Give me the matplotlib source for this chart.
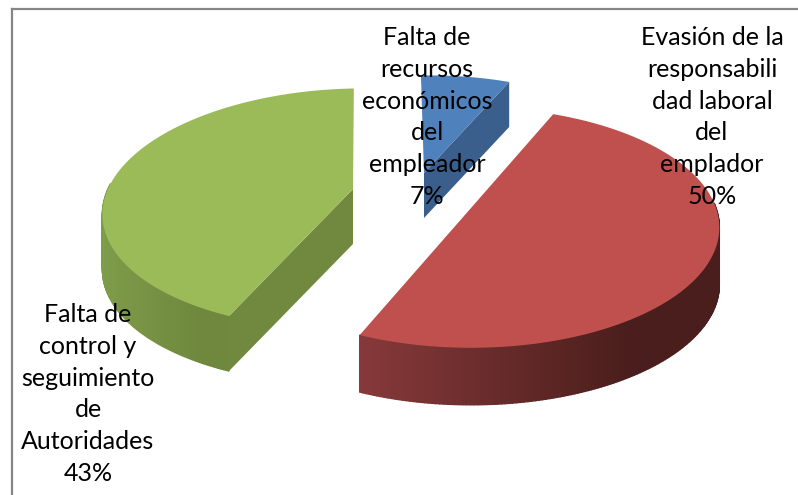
import numpy as np
import matplotlib
matplotlib.use('Agg')
import matplotlib.pyplot as plt
from matplotlib.colors import to_rgb

labels = ['Falta de\nrecursos\neconómicos\ndel\nempleador\n7%',
          'Evasión de la\nresponsabili\ndad laboral\ndel\nemplador\n50%',
          'Falta de\ncontrol y\nseguimiento\nde\nAutoridades\n43%']
values = [7, 50, 43]
top_colors = ['#4f81bd', '#c0504d', '#9bbb59']
inner_colors = ['#3a5f8c', '#8e3a38', '#71893f']
wall_left = ['#3a5f8c', '#87393a', '#7e9c49']
wall_right = ['#2c4a6e', '#4a1e1c', '#6f883e']

# layout of each slice in pixels: centre, scale, wall height, shear
centers = [(424, 173), (471, 208), (353, 189)]
scales = [0.97, 1.0, 1.0]
heights = [45, 57, 55]
shears = [0.06, 0.0, 0.1]
label_pos = [(427, 117), (712, 117), (88, 394)]

start = 92.5
RX, RY, P = 245, 117, 0.163


def project(t, center, scale, shear):
    s = scale / (1 + P * np.sin(t))
    x = RX * np.cos(t) * s
    y = RY * np.sin(t) * s
    return center[0] + x + shear * y, center[1] - y


fig = plt.figure(figsize=(7.98, 4.95), dpi=100)
ax = fig.add_axes([0, 0, 1, 1])
ax.set_xlim(0, 798)
ax.set_ylim(495, 0)
ax.axis('off')

# chart frame, runs past the edges of the picture
ax.plot([12, 12], [500, 9], color='#868686', lw=1.6, zorder=1)
ax.plot([12, 800], [9, 9], color='#868686', lw=1.6, zorder=1)

# slices run clockwise from the top
angles = start - np.cumsum([0] + values) * 3.6
for i in range(len(values)):
    a0 = np.radians(angles[i])
    a1 = np.radians(angles[i + 1])
    c, sc, h, sh = centers[i], scales[i], heights[i], shears[i]
    t = np.linspace(a0, a1, 240)
    x, y = project(t, c, sc, sh)

    # outer wall, only the part that faces the viewer
    idx = np.where(np.sin(t) < 0.05)[0]
    if len(idx) > 1:
        cl = np.array(to_rgb(wall_left[i]))
        cr = np.array(to_rgb(wall_right[i]))
        xmin, xmax = x[idx].min(), x[idx].max()
        for j in idx[:-1]:
            f = min((x[j] - xmin) / (xmax - xmin) / 0.75, 1)
            col = cl + (cr - cl) * f
            ax.fill([x[j], x[j + 1], x[j + 1], x[j]],
                    [y[j], y[j + 1], y[j + 1] + h, y[j] + h],
                    color=col, lw=1, zorder=2 + i * 0.1)

    # inner wall on the cut that faces the viewer
    if i == 0:
        ex, ey = x[-1], y[-1]
    elif i == 2:
        ex, ey = x[0], y[0]
    else:
        ex = None
    if ex is not None:
        ax.fill([c[0], ex, ex, c[0]], [c[1], ey, ey + h, c[1] + h],
                color=inner_colors[i], lw=0, zorder=2 + i * 0.1)

    # top face
    ax.fill(np.r_[c[0], x], np.r_[c[1], y], color=top_colors[i], lw=0, zorder=3 + i * 0.1)

    ax.text(label_pos[i][0], label_pos[i][1], labels[i], ha='center', va='center',
            family='Lato', fontsize=18, color='black', linespacing=1.47, zorder=5)

fig.savefig('out.png', dpi=100)
